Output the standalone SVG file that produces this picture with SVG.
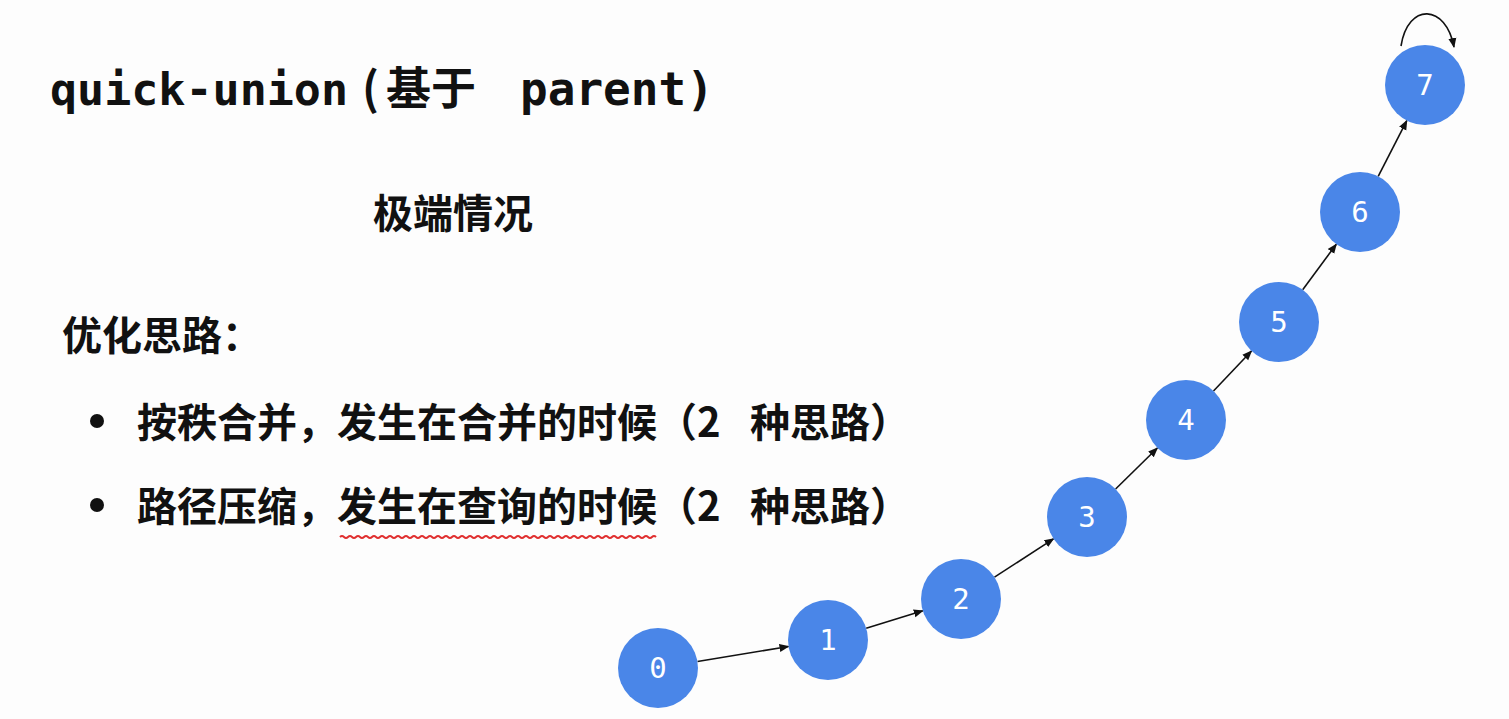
<svg xmlns="http://www.w3.org/2000/svg" width="1509" height="719" viewBox="0 0 1509 719">
<style>
.t{font-family:"Noto Sans CJK SC","Noto Sans",sans-serif;font-weight:bold;fill:#111}
.mono{font-family:"DejaVu Sans Mono","Noto Sans CJK SC",monospace;font-weight:bold;fill:#111}
.n circle{fill:#4a86e8}
.n text{font-family:"DejaVu Sans Mono",monospace;font-size:29px;fill:#fff;text-anchor:middle;dominant-baseline:central}
.e{stroke:#111;stroke-width:1.6;fill:none;marker-end:url(#a)}
</style>
<defs>
<marker id="a" markerUnits="userSpaceOnUse" markerWidth="10" markerHeight="10" viewBox="0 0 10 10" refX="9" refY="5" orient="auto">
<path d="M0,1 L10,5 L0,9 Z" fill="#111"/>
</marker>
</defs>
<rect width="1509" height="719" fill="#fdfdfd"/>
<g id="title">
<text class="mono" font-size="45" y="105"><tspan x="50">quick-union</tspan><tspan x="362" class="t" font-weight="normal">(</tspan><tspan x="386" class="t">基于</tspan><tspan x="520" font-size="46">parent)</tspan></text>
</g>
<g id="subtitle"><text class="t" font-size="40" x="453" y="228" text-anchor="middle">极端情况</text></g>
<g id="idea">
<text class="t" font-size="40" x="62" y="350">优化思路：</text>
<circle cx="97" cy="421" r="7" fill="#111"/>
<text class="t" font-size="40" y="437"><tspan x="137">按秩合并，发生在合并的时候（2</tspan><tspan x="750">种思路）</tspan></text>
<circle cx="97" cy="505" r="7" fill="#111"/>
<text class="t" font-size="40" y="521"><tspan x="137">路径压缩，发生在查询的时候（2</tspan><tspan x="750">种思路）</tspan></text>
<path d="M340,537 q2,-2 4,0 t4,0 t4,0 t4,0 t4,0 t4,0 t4,0 t4,0 t4,0 t4,0 t4,0 t4,0 t4,0 t4,0 t4,0 t4,0 t4,0 t4,0 t4,0 t4,0 t4,0 t4,0 t4,0 t4,0 t4,0 t4,0 t4,0 t4,0 t4,0 t4,0 t4,0 t4,0 t4,0 t4,0 t4,0 t4,0 t4,0 t4,0 t4,0 t4,0 t4,0 t4,0 t4,0 t4,0 t4,0 t4,0 t4,0 t4,0 t4,0 t4,0 t4,0 t4,0 t4,0 t4,0 t4,0 t4,0 t4,0 t4,0 t4,0 t4,0 t4,0 t4,0 t4,0 t4,0 t4,0 t4,0 t4,0 t4,0 t4,0 t4,0 t4,0 t4,0 t4,0 t4,0 t4,0 t4,0 t4,0 t4,0 t4,0" stroke="#e03030" stroke-width="2" fill="none"/>
</g>
<g id="connectors">
<line class="e" x1="697.5" y1="661.5" x2="788.5" y2="646.5"/>
<line class="e" x1="866.2" y1="628.2" x2="922.8" y2="610.8"/>
<line class="e" x1="994.5" y1="577.2" x2="1053.5" y2="538.8"/>
<line class="e" x1="1115.6" y1="489" x2="1157.4" y2="448"/>
<line class="e" x1="1213.5" y1="391" x2="1251.5" y2="351"/>
<line class="e" x1="1302.7" y1="289.8" x2="1336.3" y2="244.2"/>
<line class="e" x1="1378.2" y1="176.4" x2="1406.8" y2="120.6"/>
<path class="e" d="M1401,46 C1408,2 1446,4 1454,47"/>
</g>
<g id="n0" class="n"><circle cx="658" cy="668" r="40"/><text x="658" y="668">0</text></g>
<g id="n1" class="n"><circle cx="828" cy="640" r="40"/><text x="828" y="640">1</text></g>
<g id="n2" class="n"><circle cx="961" cy="599" r="40"/><text x="961" y="599">2</text></g>
<g id="n3" class="n"><circle cx="1087" cy="517" r="40"/><text x="1087" y="517">3</text></g>
<g id="n4" class="n"><circle cx="1186" cy="420" r="40"/><text x="1186" y="420">4</text></g>
<g id="n5" class="n"><circle cx="1279" cy="322" r="40"/><text x="1279" y="322">5</text></g>
<g id="n6" class="n"><circle cx="1360" cy="212" r="40"/><text x="1360" y="212">6</text></g>
<g id="n7" class="n"><circle cx="1425" cy="85" r="40"/><text x="1425" y="85">7</text></g>
</svg>
